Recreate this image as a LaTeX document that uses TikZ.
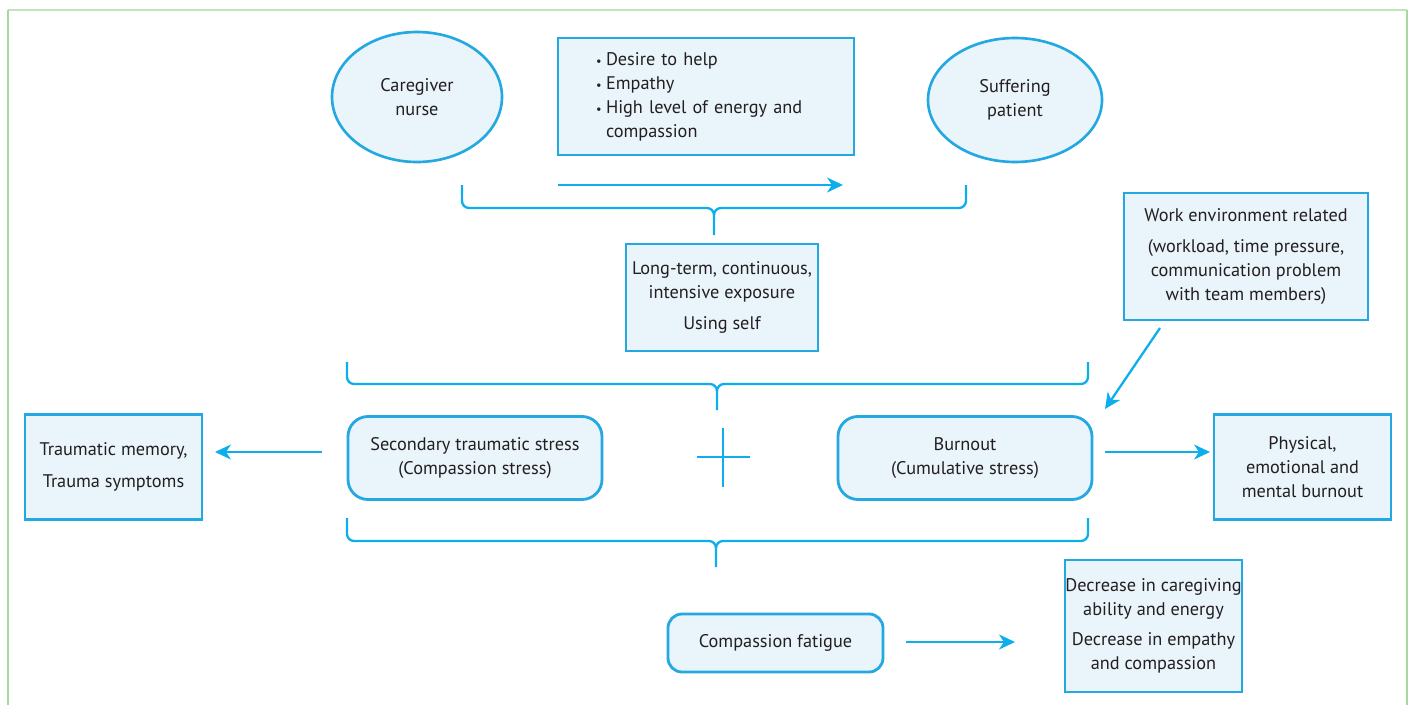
\documentclass[tikz,border=0pt]{standalone}
\usepackage{fontspec}
\setmainfont{PT Sans}
\usetikzlibrary{arrows.meta, shapes.geometric}

\definecolor{lineblue}{HTML}{23A8E2}
\definecolor{arrowblue}{HTML}{0DAEEC}
\definecolor{fillblue}{HTML}{E9F4FB}
\definecolor{textgray}{HTML}{231F20}
\definecolor{framegreen}{HTML}{A6D9A0}

\newcommand{\bul}{\makebox[2mm][l]{\scriptsize\textbullet}}

\begin{document}
\begin{tikzpicture}[x=0.2mm, y=-0.2mm]

\tikzset{txt/.style = {text=textgray, font=\fontsize{10.4}{13.7}\selectfont, align=center, inner sep=0pt}}
\tikzset{ell/.style = {txt, shape=ellipse, draw=lineblue, fill=fillblue, line width=1.5pt}}
\tikzset{sqbox/.style = {txt, shape=rectangle, draw=lineblue, fill=fillblue, line width=1.6pt}}
\tikzset{rbox/.style = {sqbox, rounded corners=4mm}}
\tikzset{edge/.style = {-{Stealth[length=3.2mm, width=3mm, inset=1mm]}, draw=arrowblue, line width=1.3pt}}
\tikzset{brace/.style = {draw=arrowblue, line width=1.3pt}}

\useasboundingbox (0,0) rectangle (1410,705);
\draw[framegreen!70, line width=1pt] (8,10) -- (1407,10);
\draw[framegreen, line width=1pt] (8,705) -- (8,10) (1407,10) -- (1407,705);

%top row
\node[ell, minimum width=34mm, minimum height=26mm] (nurse) at (417,97) {Caregiver\\nurse};
\node[ell, minimum width=34.8mm, minimum height=24.8mm] (patient) at (1015,100) {Suffering\\patient};
\node[sqbox, text width=44mm, inner xsep=7.6mm, align=left, minimum height=23.4mm] (traits) at (706,96.5)
  {\bul Desire to help\\ \bul Empathy\\ \bul High level of energy and\\ \hphantom{\bul}compassion};
\coordinate (careL) at (558,185);
\coordinate (careR) at (843,185);
\draw[edge] (careL) -- (careR);

%exposure
\node[sqbox, minimum width=38.4mm, minimum height=21.4mm] (exposure) at (722,297.5)
  {Long-term, continuous,\\intensive exposure\\[1.3mm] Using self};
\node[sqbox, minimum width=48.8mm, minimum height=25.4mm] (workenv) at (1246,256.5)
  {Work environment related\\[1.3mm] (workload, time pressure,\\communication problem\\with team members)};

%stress
\node[rbox, minimum width=50.8mm, minimum height=16.6mm] (secondary) at (475,458)
  {Secondary traumatic stress\\(Compassion stress)};
\node[rbox, minimum width=50.8mm, minimum height=16.6mm] (burnout) at (965,458)
  {Burnout\\(Cumulative stress)};
\node[sqbox, minimum width=35.4mm, minimum height=21mm] (trauma) at (113.5,467)
  {Traumatic memory,\\[1.6mm] Trauma symptoms};
\node[sqbox, minimum width=35.4mm, minimum height=21mm] (physical) at (1302.5,467)
  {Physical,\\emotional and\\mental burnout};
\draw[arrowblue, line width=1.3pt] (697,457) -- (750,457) (723,428) -- (723,487);

%fatigue
\node[rbox, rounded corners=2.8mm, minimum width=43mm, minimum height=11.6mm] (fatigue) at (775.5,643)
  {Compassion fatigue};
\node[sqbox, minimum width=35.4mm, minimum height=26.4mm] (decrease) at (1153.5,626)
  {Decrease in caregiving\\ability and energy\\[1.2mm] Decrease in empathy\\and compassion};

%edges
\coordinate (workA) at (1160,328);
\coordinate (workB) at (1105,409);
\draw[edge] (workA) -- (workB);
\coordinate (stsA) at (322,452);
\coordinate (stsB) at (215,452);
\draw[edge] (stsA) -- (stsB);
\coordinate (boA) at (1105,452);
\coordinate (boB) at (1210,452);
\draw[edge] (boA) -- (boB);
\coordinate (cfA) at (906,642);
\coordinate (cfB) at (1015,642);
\draw[edge] (cfA) -- (cfB);

%braces
\draw[brace] (462,185) -- (462,201) to[out=-90,in=180] (469,208) -- (707,208) to[out=0,in=90] (714,215) -- (714,235);
\draw[brace] (966,185) -- (966,201) to[out=-90,in=0] (959,208) -- (721,208) to[out=180,in=90] (714,215);
\draw[brace] (347,362) -- (347,377) to[out=-90,in=180] (354,384) -- (710,384) to[out=0,in=90] (717,391) -- (717,410);
\draw[brace] (1088,362) -- (1088,377) to[out=-90,in=0] (1081,384) -- (724,384) to[out=180,in=90] (717,391);
\draw[brace] (347,518) -- (347,534) to[out=-90,in=180] (354,541) -- (709,541) to[out=0,in=90] (716,548) -- (716,567);
\draw[brace] (1088,518) -- (1088,534) to[out=-90,in=0] (1081,541) -- (723,541) to[out=180,in=90] (716,548);

\end{tikzpicture}
\end{document}
